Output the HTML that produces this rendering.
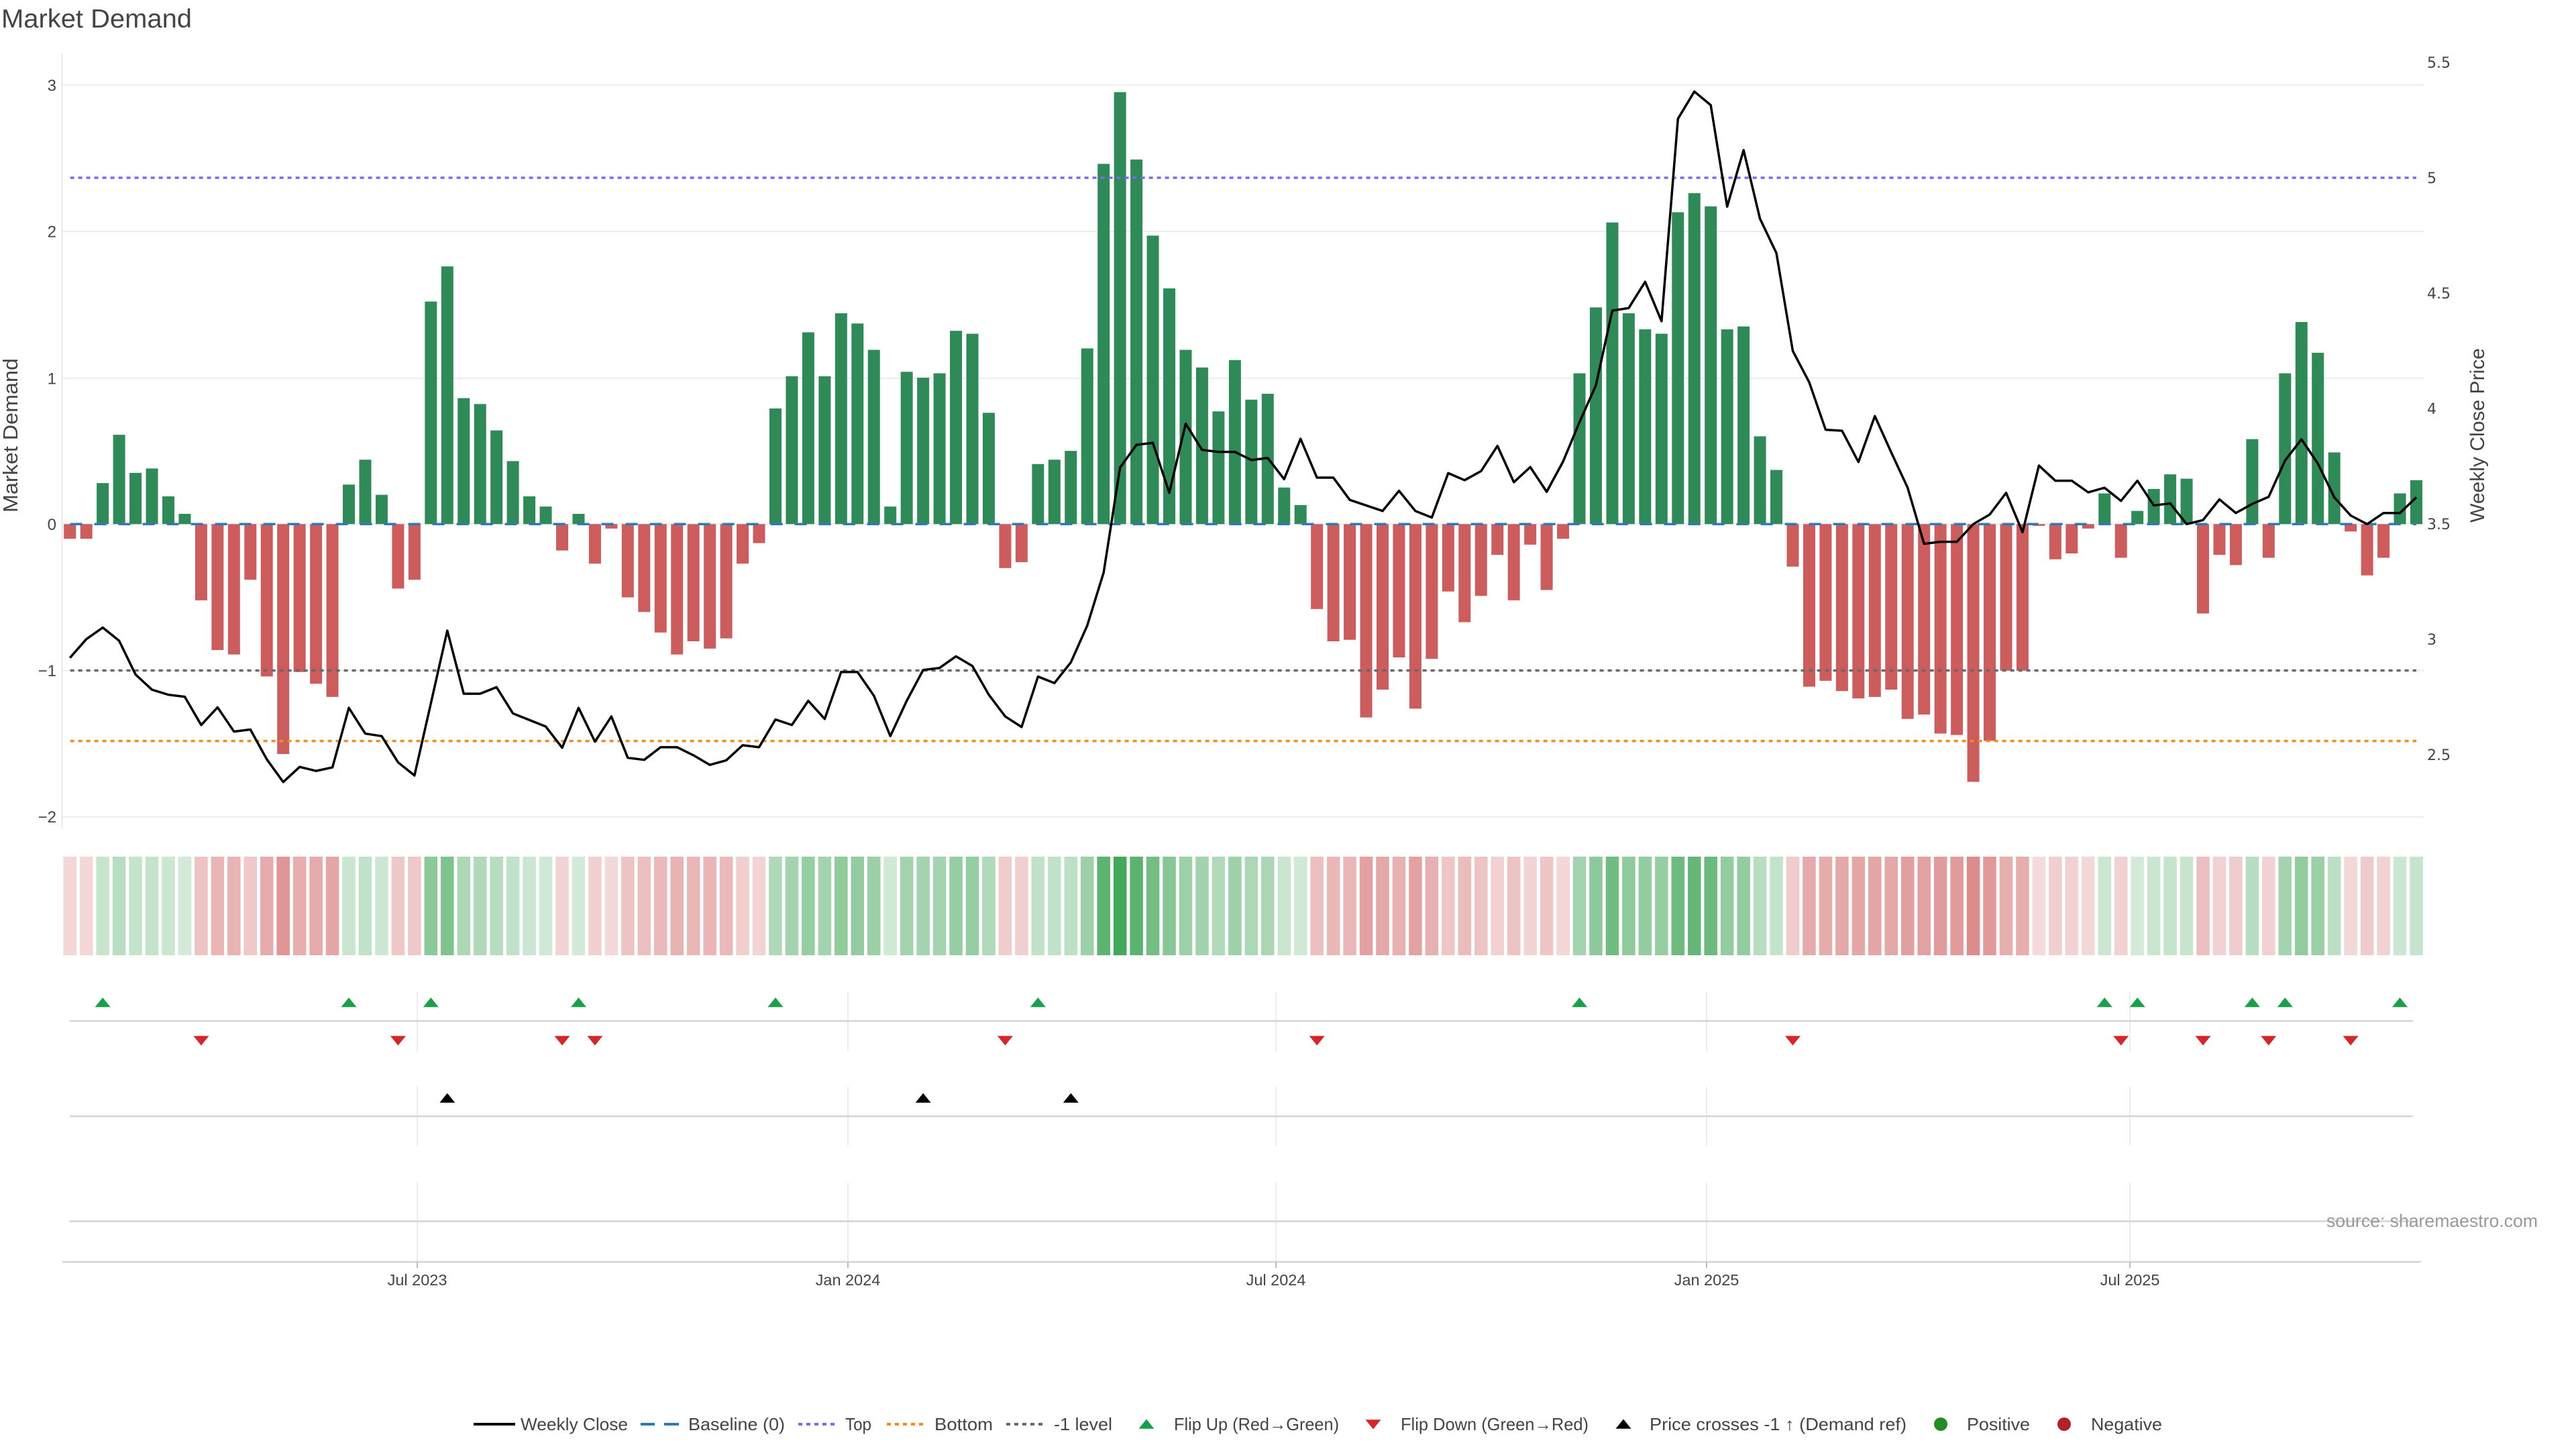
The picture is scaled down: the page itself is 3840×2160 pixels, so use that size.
<!DOCTYPE html>
<html>
<head>
<meta charset="utf-8">
<style>
  html, body { margin: 0; padding: 0; background: #ffffff; }
  svg { display: block; }
  text { font-family: "Liberation Sans", Arial, sans-serif; fill: #444; }
  .rt { font-family: "DejaVu Sans", "Liberation Sans", sans-serif; }
</style>
</head>
<body>
<svg xmlns="http://www.w3.org/2000/svg" xmlns:xlink="http://www.w3.org/1999/xlink" width="3840" height="2160" viewBox="0 0 3840 2160">
  <defs>
    <path id="tu" d="M-11.5 4.75H11.5L0 -9.5Z"/>
    <path id="td" d="M-11.5 -4.75H11.5L0 9.5Z"/>
  </defs>
  <rect width="3840" height="2160" fill="#ffffff"/>

  <!-- Title -->
  <text x="2" y="41" font-size="39" fill="#333" textLength="284" lengthAdjust="spacingAndGlyphs">Market Demand</text>

  <!-- Main plot gridlines -->
  <g stroke="#ececec" stroke-width="2">
    <line x1="93" y1="126.7" x2="3614" y2="126.7"/>
    <line x1="93" y1="345" x2="3614" y2="345"/>
    <line x1="93" y1="563.8" x2="3614" y2="563.8"/>
    <line x1="93" y1="781.3" x2="3614" y2="781.3"/>
    <line x1="93" y1="999.5" x2="3614" y2="999.5"/>
    <line x1="93" y1="1217.7" x2="3614" y2="1217.7"/>
  </g>
  <line x1="92.5" y1="80" x2="92.5" y2="1235" stroke="#e8e8e8" stroke-width="2"/>

  <!-- Left tick labels -->
  <g font-size="24" text-anchor="end">
    <text x="84" y="135.5">3</text>
    <text x="84" y="353.5">2</text>
    <text x="84" y="572.3">1</text>
    <text x="84" y="789.8">0</text>
    <text x="84" y="1008">−1</text>
    <text x="84" y="1226.2">−2</text>
  </g>
  <!-- Right tick labels -->
  <g font-size="22" class="rt">
    <text class="rt" x="3618" y="101">5.5</text>
    <text class="rt" x="3618" y="273">5</text>
    <text class="rt" x="3618" y="445">4.5</text>
    <text class="rt" x="3618" y="617">4</text>
    <text class="rt" x="3618" y="789">3.5</text>
    <text class="rt" x="3618" y="961">3</text>
    <text class="rt" x="3618" y="1133">2.5</text>
  </g>

  <!-- Axis titles -->
  <text transform="translate(26,649) rotate(-90)" text-anchor="middle" font-size="31" textLength="230" lengthAdjust="spacingAndGlyphs">Market Demand</text>
  <text transform="translate(3703,649) rotate(-90)" text-anchor="middle" font-size="30" textLength="260" lengthAdjust="spacingAndGlyphs">Weekly Close Price</text>

  <!-- Bars -->
  <g transform="translate(104.2,781.3) scale(24.46,-218.3)" fill="none" stroke-width="0.736">
    <path stroke="#2e8b57" d="M2 0V.28M3 0V.61M4 0V.35M5 0V.38M6 0V.19M7 0V.07M17 0V.27M18 0V.44M19 0V.2M22 0V1.52M23 0V1.76M24 0V.86M25 0V.82M26 0V.64M27 0V.43M28 0V.19M29 0V.12M31 0V.07M43 0V.79M44 0V1.01M45 0V1.31M46 0V1.01M47 0V1.44M48 0V1.37M49 0V1.19M50 0V.12M51 0V1.04M52 0V1M53 0V1.03M54 0V1.32M55 0V1.3M56 0V.76M59 0V.41M60 0V.44M61 0V.5M62 0V1.2M63 0V2.46M64 0V2.95M65 0V2.49M66 0V1.97M67 0V1.61M68 0V1.19M69 0V1.07M70 0V.77M71 0V1.12M72 0V.85M73 0V.89M74 0V.25M75 0V.13M92 0V1.03M93 0V1.48M94 0V2.06M95 0V1.44M96 0V1.33M97 0V1.3M98 0V2.13M99 0V2.26M100 0V2.17M101 0V1.33M102 0V1.35M103 0V.6M104 0V.37M124 0V.21M126 0V.09M127 0V.24M128 0V.34M129 0V.31M133 0V.58M135 0V1.03M136 0V1.38M137 0V1.17M138 0V.49M142 0V.21M143 0V.3"/>
    <path stroke="#cd5c5c" d="M0 0V-.1M1 0V-.1M8 0V-.52M9 0V-.86M10 0V-.89M11 0V-.38M12 0V-1.04M13 0V-1.57M14 0V-1.01M15 0V-1.09M16 0V-1.18M20 0V-.44M21 0V-.38M30 0V-.18M32 0V-.27M33 0V-.03M34 0V-.5M35 0V-.6M36 0V-.74M37 0V-.89M38 0V-.8M39 0V-.85M40 0V-.78M41 0V-.27M42 0V-.13M57 0V-.3M58 0V-.26M76 0V-.58M77 0V-.8M78 0V-.79M79 0V-1.32M80 0V-1.13M81 0V-.91M82 0V-1.26M83 0V-.92M84 0V-.46M85 0V-.67M86 0V-.49M87 0V-.21M88 0V-.52M89 0V-.14M90 0V-.45M91 0V-.1M105 0V-.29M106 0V-1.11M107 0V-1.07M108 0V-1.14M109 0V-1.19M110 0V-1.18M111 0V-1.13M112 0V-1.33M113 0V-1.3M114 0V-1.43M115 0V-1.44M116 0V-1.76M117 0V-1.48M118 0V-1M119 0V-1M120 0V-.012M121 0V-.24M122 0V-.2M123 0V-.03M125 0V-.23M130 0V-.61M131 0V-.21M132 0V-.28M134 0V-.23M139 0V-.05M140 0V-.35M141 0V-.23"/>
  </g>

  <!-- Baseline and levels -->
  <line x1="104.6" y1="781.3" x2="3602" y2="781.3" stroke="#2c7bb6" stroke-width="3.5" stroke-dasharray="18 18"/>
  <line x1="104.6" y1="265" x2="3602" y2="265" stroke="#7b68ee" stroke-width="3.5" stroke-dasharray="6 6"/>
  <line x1="104.6" y1="999.5" x2="3602" y2="999.5" stroke="#696969" stroke-width="3.5" stroke-dasharray="6 6"/>
  <line x1="104.6" y1="1104.6" x2="3602" y2="1104.6" stroke="#f28a1e" stroke-width="3.5" stroke-dasharray="6 6"/>

  <!-- Price line -->
  <g transform="translate(104.2,80) scale(24.46,0.75245)">
    <polyline fill="none" stroke="#000" stroke-width="3.5" vector-effect="non-scaling-stroke" stroke-linejoin="round" points="0,1197 1,1160 2,1137 3,1163 4,1230 5,1260 6,1270 7,1274 8,1330 9,1295 10,1343 11,1339 12,1398 13,1443 14,1413 15,1421 16,1414 17,1296 18,1347 19,1352 20,1404 21,1430 22,1287 23,1143 24,1268 25,1268 26,1255 27,1307 28,1320 29,1333 30,1375 31,1296 32,1363 33,1313 34,1395 35,1399 36,1374 37,1374 38,1390 39,1409 40,1400 41,1370 42,1374 43,1319 44,1330 45,1282 46,1318 47,1225 48,1225 49,1272 50,1352 51,1282 52,1221 53,1217 54,1194 55,1213 56,1270 57,1313 58,1334 59,1234 60,1247 61,1206 62,1133 63,1028 64,820 65,775 66,771 67,870 68,733 69,785 70,789 71,789 72,805 73,801 74,843 75,763 76,840 77,840 78,884 79,895 80,906 81,866 82,906 83,919 84,831 85,845 86,827 87,777 88,849 89,819 90,868 91,808 92,730 93,657 94,509 95,504 96,452 97,530 98,129 99,75 100,102 101,303 102,191 103,327 104,395 105,589 106,651 107,745 108,747 109,809 110,718 111,790 112,860 113,971 114,967 115,967 116,932 117,913 118,870 119,948 120,816 121,846 122,846 123,869 124,860 125,886 126,846 127,895 128,891 129,932 130,924 131,883 132,910 133,892 134,878 135,806 136,764 137,812 138,879 139,915 140,932 141,910 142,910 143,879"/>
  </g>

  <!-- Heat strip -->
  <g transform="translate(104.2,1277) scale(24.46,147)" fill="none" stroke-width="0.8">
    <g stroke="#c84646">
      <path d="M0 0V1" stroke-opacity=".22"/><path d="M1 0V1" stroke-opacity=".22"/><path d="M8 0V1" stroke-opacity=".32"/><path d="M9 0V1" stroke-opacity=".40"/><path d="M10 0V1" stroke-opacity=".41"/><path d="M11 0V1" stroke-opacity=".29"/><path d="M12 0V1" stroke-opacity=".45"/><path d="M13 0V1" stroke-opacity=".57"/><path d="M14 0V1" stroke-opacity=".44"/><path d="M15 0V1" stroke-opacity=".46"/><path d="M16 0V1" stroke-opacity=".48"/><path d="M20 0V1" stroke-opacity=".30"/><path d="M21 0V1" stroke-opacity=".29"/><path d="M30 0V1" stroke-opacity=".24"/><path d="M32 0V1" stroke-opacity=".26"/><path d="M33 0V1" stroke-opacity=".21"/><path d="M34 0V1" stroke-opacity=".32"/><path d="M35 0V1" stroke-opacity=".34"/><path d="M36 0V1" stroke-opacity=".38"/><path d="M37 0V1" stroke-opacity=".41"/><path d="M38 0V1" stroke-opacity=".39"/><path d="M39 0V1" stroke-opacity=".40"/><path d="M40 0V1" stroke-opacity=".38"/><path d="M41 0V1" stroke-opacity=".26"/><path d="M42 0V1" stroke-opacity=".23"/><path d="M57 0V1" stroke-opacity=".27"/><path d="M58 0V1" stroke-opacity=".26"/><path d="M76 0V1" stroke-opacity=".34"/><path d="M77 0V1" stroke-opacity=".39"/><path d="M78 0V1" stroke-opacity=".39"/><path d="M79 0V1" stroke-opacity=".51"/><path d="M80 0V1" stroke-opacity=".47"/><path d="M81 0V1" stroke-opacity=".42"/><path d="M82 0V1" stroke-opacity=".50"/><path d="M83 0V1" stroke-opacity=".42"/><path d="M84 0V1" stroke-opacity=".31"/><path d="M85 0V1" stroke-opacity=".36"/><path d="M86 0V1" stroke-opacity=".32"/><path d="M87 0V1" stroke-opacity=".25"/><path d="M88 0V1" stroke-opacity=".32"/><path d="M89 0V1" stroke-opacity=".23"/><path d="M90 0V1" stroke-opacity=".31"/><path d="M91 0V1" stroke-opacity=".22"/><path d="M105 0V1" stroke-opacity=".27"/><path d="M106 0V1" stroke-opacity=".46"/><path d="M107 0V1" stroke-opacity=".45"/><path d="M108 0V1" stroke-opacity=".47"/><path d="M109 0V1" stroke-opacity=".48"/><path d="M110 0V1" stroke-opacity=".48"/><path d="M111 0V1" stroke-opacity=".47"/><path d="M112 0V1" stroke-opacity=".52"/><path d="M113 0V1" stroke-opacity=".51"/><path d="M114 0V1" stroke-opacity=".54"/><path d="M115 0V1" stroke-opacity=".54"/><path d="M116 0V1" stroke-opacity=".62"/><path d="M117 0V1" stroke-opacity=".55"/><path d="M118 0V1" stroke-opacity=".44"/><path d="M119 0V1" stroke-opacity=".44"/><path d="M120 0V1" stroke-opacity=".20"/><path d="M121 0V1" stroke-opacity=".26"/><path d="M122 0V1" stroke-opacity=".25"/><path d="M123 0V1" stroke-opacity=".21"/><path d="M125 0V1" stroke-opacity=".25"/><path d="M130 0V1" stroke-opacity=".34"/><path d="M131 0V1" stroke-opacity=".25"/><path d="M132 0V1" stroke-opacity=".27"/><path d="M134 0V1" stroke-opacity=".25"/><path d="M139 0V1" stroke-opacity=".21"/><path d="M140 0V1" stroke-opacity=".28"/><path d="M141 0V1" stroke-opacity=".25"/>
    </g>
    <g stroke="#309e48">
      <path d="M2 0V1" stroke-opacity=".27"/><path d="M3 0V1" stroke-opacity=".34"/><path d="M4 0V1" stroke-opacity=".28"/><path d="M5 0V1" stroke-opacity=".29"/><path d="M6 0V1" stroke-opacity=".25"/><path d="M7 0V1" stroke-opacity=".22"/><path d="M17 0V1" stroke-opacity=".26"/><path d="M18 0V1" stroke-opacity=".30"/><path d="M19 0V1" stroke-opacity=".25"/><path d="M22 0V1" stroke-opacity=".56"/><path d="M23 0V1" stroke-opacity=".62"/><path d="M24 0V1" stroke-opacity=".40"/><path d="M25 0V1" stroke-opacity=".39"/><path d="M26 0V1" stroke-opacity=".35"/><path d="M27 0V1" stroke-opacity=".30"/><path d="M28 0V1" stroke-opacity=".25"/><path d="M29 0V1" stroke-opacity=".23"/><path d="M31 0V1" stroke-opacity=".22"/><path d="M43 0V1" stroke-opacity=".39"/><path d="M44 0V1" stroke-opacity=".44"/><path d="M45 0V1" stroke-opacity=".51"/><path d="M46 0V1" stroke-opacity=".44"/><path d="M47 0V1" stroke-opacity=".54"/><path d="M48 0V1" stroke-opacity=".52"/><path d="M49 0V1" stroke-opacity=".48"/><path d="M50 0V1" stroke-opacity=".23"/><path d="M51 0V1" stroke-opacity=".45"/><path d="M52 0V1" stroke-opacity=".44"/><path d="M53 0V1" stroke-opacity=".44"/><path d="M54 0V1" stroke-opacity=".51"/><path d="M55 0V1" stroke-opacity=".51"/><path d="M56 0V1" stroke-opacity=".38"/><path d="M59 0V1" stroke-opacity=".30"/><path d="M60 0V1" stroke-opacity=".30"/><path d="M61 0V1" stroke-opacity=".32"/><path d="M62 0V1" stroke-opacity=".48"/><path d="M63 0V1" stroke-opacity=".78"/><path d="M64 0V1" stroke-opacity=".90"/><path d="M65 0V1" stroke-opacity=".79"/><path d="M66 0V1" stroke-opacity=".67"/><path d="M67 0V1" stroke-opacity=".58"/><path d="M68 0V1" stroke-opacity=".48"/><path d="M69 0V1" stroke-opacity=".45"/><path d="M70 0V1" stroke-opacity=".38"/><path d="M71 0V1" stroke-opacity=".47"/><path d="M72 0V1" stroke-opacity=".40"/><path d="M73 0V1" stroke-opacity=".41"/><path d="M74 0V1" stroke-opacity=".26"/><path d="M75 0V1" stroke-opacity=".23"/><path d="M92 0V1" stroke-opacity=".44"/><path d="M93 0V1" stroke-opacity=".55"/><path d="M94 0V1" stroke-opacity=".69"/><path d="M95 0V1" stroke-opacity=".54"/><path d="M96 0V1" stroke-opacity=".52"/><path d="M97 0V1" stroke-opacity=".51"/><path d="M98 0V1" stroke-opacity=".70"/><path d="M99 0V1" stroke-opacity=".74"/><path d="M100 0V1" stroke-opacity=".71"/><path d="M101 0V1" stroke-opacity=".52"/><path d="M102 0V1" stroke-opacity=".52"/><path d="M103 0V1" stroke-opacity=".34"/><path d="M104 0V1" stroke-opacity=".29"/><path d="M124 0V1" stroke-opacity=".25"/><path d="M126 0V1" stroke-opacity=".22"/><path d="M127 0V1" stroke-opacity=".26"/><path d="M128 0V1" stroke-opacity=".28"/><path d="M129 0V1" stroke-opacity=".27"/><path d="M133 0V1" stroke-opacity=".34"/><path d="M135 0V1" stroke-opacity=".44"/><path d="M136 0V1" stroke-opacity=".53"/><path d="M137 0V1" stroke-opacity=".48"/><path d="M138 0V1" stroke-opacity=".32"/><path d="M142 0V1" stroke-opacity=".25"/><path d="M143 0V1" stroke-opacity=".27"/>
    </g>
  </g>

  <!-- Lower rows: vertical gridlines at date ticks -->
  <g stroke="#ececec" stroke-width="2">
    <path d="M622 1478V1567M1264 1478V1567M1902 1478V1567M2544 1478V1567M3175 1478V1567"/>
    <path d="M622 1620V1708M1264 1620V1708M1902 1620V1708M2544 1620V1708M3175 1620V1708"/>
    <path d="M622 1763V1881M1264 1763V1881M1902 1763V1881M2544 1763V1881M3175 1763V1881"/>
  </g>
  <!-- Lower rows: horizontal lines -->
  <g stroke="#d4d4d4" stroke-width="2.5">
    <line x1="104" y1="1522" x2="3597" y2="1522"/>
    <line x1="104" y1="1664" x2="3597" y2="1664"/>
    <line x1="104" y1="1820.5" x2="3597" y2="1820.5"/>
    <line x1="92.6" y1="1881" x2="3609" y2="1881"/>
  </g>
  <g stroke="#bbbbbb" stroke-width="2">
    <path d="M622 1881V1890M1264 1881V1890M1902 1881V1890M2544 1881V1890M3175 1881V1890"/>
  </g>

  <!-- Flip Up markers -->
  <g fill="#18a04a">
    <use xlink:href="#tu" href="#tu" x="153.1" y="1496.5"/>
    <use xlink:href="#tu" href="#tu" x="520.0" y="1496.5"/>
    <use xlink:href="#tu" href="#tu" x="642.3" y="1496.5"/>
    <use xlink:href="#tu" href="#tu" x="862.5" y="1496.5"/>
    <use xlink:href="#tu" href="#tu" x="1156.0" y="1496.5"/>
    <use xlink:href="#tu" href="#tu" x="1547.3" y="1496.5"/>
    <use xlink:href="#tu" href="#tu" x="2354.5" y="1496.5"/>
    <use xlink:href="#tu" href="#tu" x="3137.2" y="1496.5"/>
    <use xlink:href="#tu" href="#tu" x="3186.2" y="1496.5"/>
    <use xlink:href="#tu" href="#tu" x="3357.4" y="1496.5"/>
    <use xlink:href="#tu" href="#tu" x="3406.3" y="1496.5"/>
    <use xlink:href="#tu" href="#tu" x="3577.5" y="1496.5"/>
  </g>
  <!-- Flip Down markers -->
  <g fill="#d62728">
    <use xlink:href="#td" href="#td" x="299.9" y="1549"/>
    <use xlink:href="#td" href="#td" x="593.4" y="1549"/>
    <use xlink:href="#td" href="#td" x="838.0" y="1549"/>
    <use xlink:href="#td" href="#td" x="886.9" y="1549"/>
    <use xlink:href="#td" href="#td" x="1498.4" y="1549"/>
    <use xlink:href="#td" href="#td" x="1963.2" y="1549"/>
    <use xlink:href="#td" href="#td" x="2672.5" y="1549"/>
    <use xlink:href="#td" href="#td" x="3161.7" y="1549"/>
    <use xlink:href="#td" href="#td" x="3284.0" y="1549"/>
    <use xlink:href="#td" href="#td" x="3381.8" y="1549"/>
    <use xlink:href="#td" href="#td" x="3504.1" y="1549"/>
  </g>
  <!-- Price crosses markers -->
  <g fill="#000">
    <use xlink:href="#tu" href="#tu" x="666.8" y="1639"/>
    <use xlink:href="#tu" href="#tu" x="1376.1" y="1639"/>
    <use xlink:href="#tu" href="#tu" x="1596.3" y="1639"/>
  </g>

  <!-- Source -->
  <text x="3468" y="1829" font-size="27" fill="#999" style="fill:#999" textLength="315" lengthAdjust="spacingAndGlyphs">source: sharemaestro.com</text>

  <!-- X tick labels -->
  <g font-size="23.5" text-anchor="middle">
    <text x="622" y="1916">Jul 2023</text>
    <text x="1264" y="1916">Jan 2024</text>
    <text x="1902" y="1916">Jul 2024</text>
    <text x="2544" y="1916">Jan 2025</text>
    <text x="3175" y="1916">Jul 2025</text>
  </g>

  <!-- Legend -->
  <line x1="706" y1="2123" x2="768" y2="2123" stroke="#000" stroke-width="4"/>
  <text x="776" y="2132" font-size="26" textLength="160" lengthAdjust="spacingAndGlyphs">Weekly Close</text>
  <path d="M955 2123h21M990 2123h22" stroke="#2c7bb6" stroke-width="4"/>
  <text x="1026" y="2132" font-size="26" textLength="144" lengthAdjust="spacingAndGlyphs">Baseline (0)</text>
  <line x1="1190" y1="2123" x2="1244" y2="2123" stroke="#7b68ee" stroke-width="4" stroke-dasharray="6 6"/>
  <text x="1260" y="2132" font-size="26" textLength="39" lengthAdjust="spacingAndGlyphs">Top</text>
  <line x1="1322" y1="2123" x2="1377" y2="2123" stroke="#f28a1e" stroke-width="4" stroke-dasharray="6 6"/>
  <text x="1393" y="2132" font-size="26" textLength="87" lengthAdjust="spacingAndGlyphs">Bottom</text>
  <line x1="1500" y1="2123" x2="1555" y2="2123" stroke="#696969" stroke-width="4" stroke-dasharray="6 6"/>
  <text x="1571" y="2132" font-size="26" textLength="87" lengthAdjust="spacingAndGlyphs">-1 level</text>
  <use xlink:href="#tu" href="#tu" x="1709" y="2125" fill="#18a04a"/>
  <text x="1750" y="2132" font-size="26" textLength="246" lengthAdjust="spacingAndGlyphs">Flip Up (Red→Green)</text>
  <use xlink:href="#td" href="#td" x="2047" y="2121" fill="#d62728"/>
  <text x="2088" y="2132" font-size="26" textLength="280" lengthAdjust="spacingAndGlyphs">Flip Down (Green→Red)</text>
  <use xlink:href="#tu" href="#tu" x="2420" y="2125" fill="#000"/>
  <text x="2459" y="2132" font-size="26" textLength="383" lengthAdjust="spacingAndGlyphs">Price crosses -1 ↑ (Demand ref)</text>
  <circle cx="2893" cy="2123" r="10" fill="#228b22"/>
  <text x="2932" y="2132" font-size="26" textLength="94" lengthAdjust="spacingAndGlyphs">Positive</text>
  <circle cx="3077" cy="2123" r="10" fill="#b22222"/>
  <text x="3117" y="2132" font-size="26" textLength="106" lengthAdjust="spacingAndGlyphs">Negative</text>
</svg>
</body>
</html>
